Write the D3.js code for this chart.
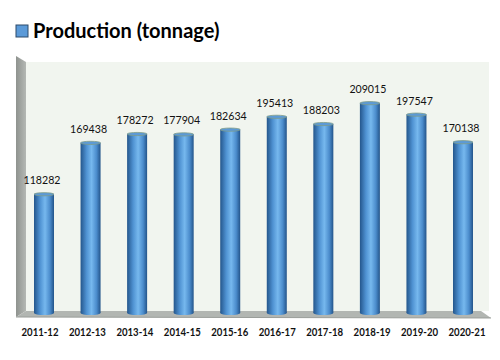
<!DOCTYPE html>
<html><head><meta charset="utf-8">
<script src="https://cdn.jsdelivr.net/npm/d3@7"></script>
<style>html,body{margin:0;padding:0;background:#fff;}svg{display:block;}</style>
</head><body>
<script>
const categories = ["2011-12","2012-13","2013-14","2014-15","2015-16","2016-17","2017-18","2018-19","2019-20","2020-21"];
const production = [118282,169438,178272,177904,182634,195413,188203,209015,197547,170138];
const seriesName = "Production (tonnage)";
const yMax = 250000;

const W = 500, H = 360;
const svg = d3.select("body").append("svg").attr("width", W).attr("height", H);
const defs = svg.append("defs");
const g1 = defs.append("linearGradient").attr("id","cyl").attr("x1","0").attr("x2","1").attr("y1","0").attr("y2","0");
[[0,"#24568c"],[0.3,"#4f92d2"],[0.55,"#76b8ee"],[0.8,"#4b8ccc"],[1,"#23548a"]].forEach(s=>g1.append("stop").attr("offset",s[0]).attr("stop-color",s[1]));
const g2 = defs.append("linearGradient").attr("id","side").attr("x1","0").attr("x2","1");
[[0,"#8f938f"],[1,"#b4b8b4"]].forEach(s=>g2.append("stop").attr("offset",s[0]).attr("stop-color",s[1]));

// plot geometry
const wallL = 26, wallR = 489, wallT = 62, wallB = 311;
const x = d3.scalePoint().domain(categories).range([44, 463]);
const y = d3.scaleLinear().domain([0, yMax]).range([313, 62]);

// back wall
svg.append("rect").attr("x", wallL).attr("y", wallT).attr("width", wallR - wallL).attr("height", wallB - wallT).attr("fill", "#f1f5ef");
// side wall
svg.append("path").attr("d", `M16,56 L${wallL},${wallT} L${wallL},${wallB} L16,317 Z`).attr("fill", "url(#side)");
// floor
svg.append("path").attr("d", `M16,317 L${wallL},${wallB} L${wallR-8},${wallB} L${wallR+2},318 Z`).attr("fill", "#b2b6b2");
svg.append("path").attr("d", `M16,317 L${wallR+2},318`).attr("stroke", "#9a9e9a").attr("stroke-width", 1);

// bars
const bw = 20;
const bars = svg.append("g");
categories.forEach((c, i) => {
  const cx = x(c), yt = y(production[i]), yb = y(0);
  bars.append("rect").attr("x", cx - bw/2).attr("y", yt).attr("width", bw).attr("height", yb - yt)
    .attr("fill", "url(#cyl)");
  bars.append("ellipse").attr("cx", cx).attr("cy", yb).attr("rx", bw/2).attr("ry", 2).attr("fill", "url(#cyl)");
  bars.append("ellipse").attr("cx", cx).attr("cy", yt).attr("rx", bw/2).attr("ry", 1.6)
    .attr("fill", "#5c9ad6").attr("stroke", "#7e9a88").attr("stroke-width", 0.8);
  svg.append("text").attr("x", cx - 2).attr("y", yt - 10).attr("text-anchor", "middle")
    .attr("font-family", "Lato, 'Open Sans', sans-serif").attr("font-size", 12).attr("fill", "#111")
    .attr("textLength", 37).attr("lengthAdjust", "spacingAndGlyphs")
    .text(d3.format("d")(production[i]));
});

// x axis labels
const xl = d3.scaleLinear().domain([0, categories.length - 1]).range([40, 467]);
categories.forEach((c, i) => {
  svg.append("text").attr("x", xl(i)).attr("y", 336).attr("text-anchor", "middle")
    .attr("font-family", "Lato, 'Open Sans', sans-serif").attr("font-weight", "bold").attr("font-size", 11).attr("fill", "#111")
    .attr("textLength", 37).attr("lengthAdjust", "spacingAndGlyphs")
    .text(c);
});

// legend
svg.append("rect").attr("x", 16).attr("y", 25).attr("width", 12).attr("height", 12)
  .attr("fill", "#5b9ad8").attr("stroke", "#2c4a6a").attr("stroke-width", 1);
svg.append("text").attr("x", 33).attr("y", 38).attr("font-family", "Lato, 'Open Sans', sans-serif")
  .attr("font-weight", "bold").attr("font-size", 20).attr("fill", "#000").text(seriesName);
</script>
</body></html>
